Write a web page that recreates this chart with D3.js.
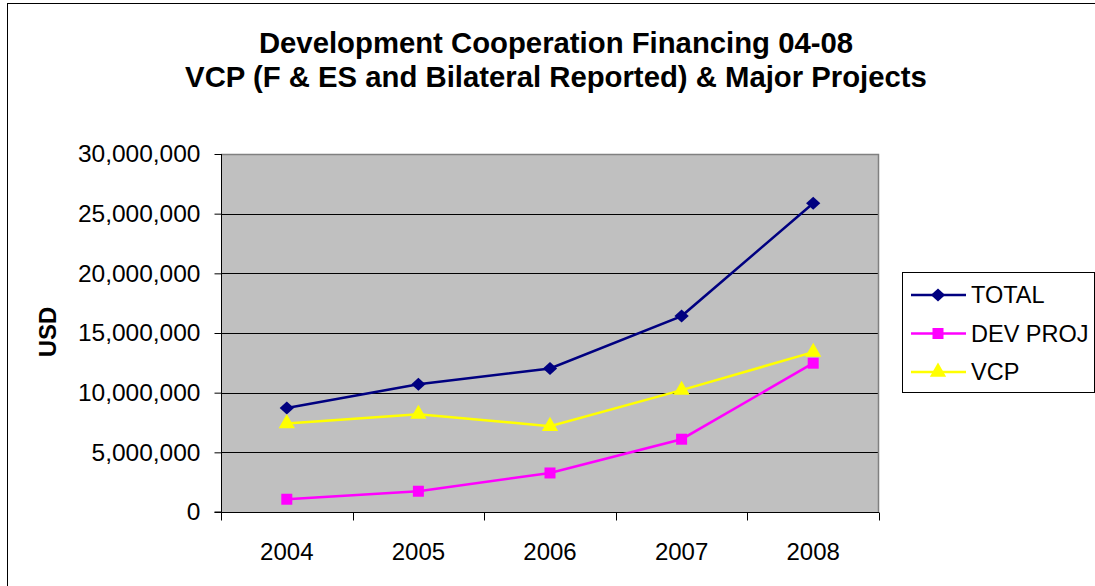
<!DOCTYPE html>
<html><head><meta charset="utf-8">
<script src="https://cdn.jsdelivr.net/npm/d3@7"></script>
<style>body{margin:0;background:#fff}svg{display:block;font-family:"Liberation Sans",Arial,sans-serif}</style>
</head><body><svg id="c" width="1095" height="586"></svg>
<script>
const years = ["2004","2005","2006","2007","2008"];
const total = [8720000, 10710000, 12030000, 16420000, 25870000];
const devProj = [1070000, 1740000, 3270000, 6100000, 12470000];
const vcp = [7420000, 8200000, 7190000, 10210000, 13400000];
const yTicks = [0, 5000000, 10000000, 15000000, 20000000, 25000000, 30000000];
const seriesNames = ["TOTAL", "DEV PROJ", "VCP"];
const titleLines = ["Development Cooperation Financing 04-08", "VCP (F & ES and Bilateral Reported) & Major Projects"];

const wideDiamond = {
  draw(ctx, size) {
    const w = Math.sqrt(size) * 0.68, h = Math.sqrt(size) * 0.62;
    ctx.moveTo(0, -h); ctx.lineTo(w, 0); ctx.lineTo(0, h); ctx.lineTo(-w, 0); ctx.closePath();
  }
};

const series = [
  {name: seriesNames[0], values: total, color: "#000080", sym: wideDiamond, size: 110},
  {name: seriesNames[1], values: devProj, color: "#FF00FF", sym: d3.symbolSquare, size: 121},
  {name: seriesNames[2], values: vcp, color: "#FFFF00", sym: d3.symbolTriangle, size: 115}
];

const svg = d3.select("#c");
const L = 221, R = 879, T = 154, B = 512;

// outer border
svg.append("rect").attr("x", 7.5).attr("y", 3.5).attr("width", 1200).attr("height", 700)
  .attr("fill", "none").attr("stroke", "#000").attr("stroke-width", 1);

// title
svg.append("g").selectAll("text").data(titleLines).join("text")
  .attr("x", 556).attr("y", (d, i) => 53 + i * 34)
  .attr("text-anchor", "middle").attr("font-weight", "bold").attr("font-size", 29.3)
  .text(d => d);

const x = d3.scaleBand().domain(years).range([L, R]);
const y = d3.scaleLinear().domain([0, 30000000]).range([B, T]);

// plot background
svg.append("rect").attr("x", L).attr("y", T).attr("width", R - L).attr("height", B - T).attr("fill", "#C0C0C0");

// gridlines
svg.append("g").selectAll("line").data(yTicks.slice(1)).join("line")
  .attr("x1", L).attr("x2", R).attr("y1", d => Math.round(y(d)) + 0.5).attr("y2", d => Math.round(y(d)) + 0.5)
  .attr("stroke", "#000").attr("stroke-width", 1);
// plot border top/right
svg.append("path").attr("d", `M${L},${T+0.5}H${R-0.5}V${B}`).attr("fill", "none").attr("stroke", "#808080").attr("stroke-width", 1.5);

// y axis
const yAxis = d3.axisLeft(y).tickValues(yTicks).tickSize(7).tickPadding(14).tickFormat(d3.format(","));
const gy = svg.append("g").attr("transform", `translate(${L + 0.5},0)`).call(yAxis);
gy.selectAll("text").attr("font-size", 24.5).attr("fill", "#000").attr("font-family", "Liberation Sans, Arial, sans-serif");
gy.selectAll("line,path").attr("stroke", "#000");
gy.select(".domain").attr("d", `M-7,${B}H0V${T}`);

// x axis
const xAxis = d3.axisBottom(x).tickSize(0).tickPadding(30);
const gx = svg.append("g").attr("transform", `translate(0,${B + 0.5})`).call(xAxis);
gx.selectAll("text").attr("font-size", 24).attr("fill", "#000").attr("font-family", "Liberation Sans, Arial, sans-serif");
gx.select(".domain").attr("stroke", "#000").attr("d", `M${L},0H${R}`);
const bounds = years.map(d => x(d)).concat([R]);
gx.append("g").selectAll("line").data(bounds).join("line")
  .attr("x1", d => Math.round(d) + 0.5).attr("x2", d => Math.round(d) + 0.5).attr("y1", 0).attr("y2", 8)
  .attr("stroke", "#000");

// y label
svg.append("text").attr("transform", "translate(56,332) rotate(-90)").attr("text-anchor", "middle")
  .attr("font-weight", "bold").attr("font-size", 24).text("USD");

// lines and markers
const cx = d => x(d) + x.bandwidth() / 2;
const line = d3.line().x((v, i) => cx(years[i])).y(v => y(v));
series.forEach(s => {
  svg.append("path").datum(s.values).attr("d", line).attr("fill", "none")
    .attr("stroke", s.color).attr("stroke-width", 2.5);
  svg.append("g").selectAll("path").data(s.values).join("path")
    .attr("transform", (v, i) => `translate(${cx(years[i])},${y(v)})`)
    .attr("d", d3.symbol().type(s.sym).size(s.size)).attr("fill", s.color);
});

// legend
const lg = svg.append("g");
lg.append("rect").attr("x", 902.5).attr("y", 272.5).attr("width", 192).attr("height", 120)
  .attr("fill", "#fff").attr("stroke", "#000").attr("stroke-width", 1);
series.forEach((s, i) => {
  const yy = 295 + i * 38.5;
  lg.append("line").attr("x1", 911).attr("x2", 966).attr("y1", yy).attr("y2", yy).attr("stroke", s.color).attr("stroke-width", 2.5);
  lg.append("path").attr("transform", `translate(938,${yy})`).attr("d", d3.symbol().type(s.sym).size(s.size)).attr("fill", s.color);
  lg.append("text").attr("x", 971).attr("y", yy).attr("dy", "0.36em").attr("font-size", 23.5).text(s.name);
});
</script></body></html>
